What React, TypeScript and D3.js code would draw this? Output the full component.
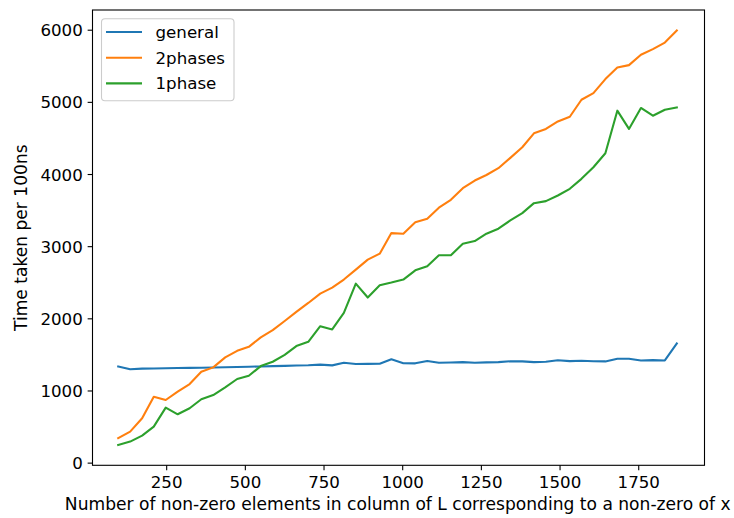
import React from "react";
import * as d3 from "d3";

const xValues = [96,134,172,209,247,285,323,360,398,436,474,511,549,587,625,662,700,738,776,813,851,889,927,964,1002,1040,1078,1115,1153,1191,1229,1266,1304,1342,1380,1417,1455,1493,1531,1568,1606,1644,1682,1719,1757,1795,1833,1871];

const general = [1340,1302,1310,1312,1315,1318,1320,1322,1325,1328,1332,1336,1340,1344,1348,1352,1356,1365,1355,1390,1375,1376,1378,1440,1385,1383,1416,1392,1395,1400,1392,1396,1400,1412,1410,1400,1404,1426,1414,1418,1412,1410,1446,1446,1423,1428,1423,1659];

const twoPhases = [346,437,622,921,875,990,1096,1266,1327,1466,1557,1612,1742,1843,1970,2096,2220,2350,2433,2544,2682,2820,2903,3188,3180,3340,3387,3540,3650,3810,3917,3993,4088,4231,4378,4571,4631,4736,4801,5036,5129,5323,5483,5516,5659,5738,5829,5995];

const onePhase = [253,299,382,506,769,677,760,885,944,1051,1166,1211,1345,1405,1500,1622,1681,1898,1853,2082,2488,2295,2465,2502,2544,2672,2728,2880,2880,3041,3078,3180,3249,3364,3465,3603,3631,3709,3802,3940,4101,4294,4885,4632,4922,4815,4898,4930];

const seriesNames = ["general", "2phases", "1phase"];
const seriesColors = ["#1f77b4", "#ff7f0e", "#2ca02c"];
const xTicks = [250, 500, 750, 1000, 1250, 1500, 1750];
const yTicks = [0, 1000, 2000, 3000, 4000, 5000, 6000];
const xLabel = "Number of non-zero elements in column of L corresponding to a non-zero of x";
const yLabel = "Time taken per 100ns";

export default function App() {
  const W = 734, H = 518;
  const L = 92.5, R = 704.5, T = 10, B = 465.3;
  const x = d3.scaleLinear().domain([14.3, 1959]).range([L, R]);
  const y = d3.scaleLinear().domain([-30, 6280]).range([B, T]);
  const all = [general, twoPhases, onePhase];
  const line = d3.line<[number, number]>().x(d => x(d[0])).y(d => y(d[1]));
  const font = "DejaVu Sans, sans-serif";
  const fs = 16.67;
  const lfs = 17.1;
  return (
    <svg width={W} height={H} style={{ position: "absolute", left: 0, top: 0, background: "#fff" }} fontFamily={font}>
      <rect x={0} y={0} width={W} height={H} fill="#fff" />
      {all.map((vals, i) => (
        <path key={i} d={line(vals.map((v, j) => [xValues[j], v] as [number, number])) || ""}
          fill="none" stroke={seriesColors[i]} strokeWidth={2.08} strokeLinejoin="round" strokeLinecap="square" />
      ))}
      <rect x={L} y={T} width={R - L} height={B - T} fill="none" stroke="#000" strokeWidth={1.1} />
      {xTicks.map(t => (
        <g key={t}>
          <line x1={x(t)} x2={x(t)} y1={B} y2={B + 4.86} stroke="#000" strokeWidth={1.1} />
          <text x={x(t)} y={B + 23} textAnchor="middle" fontSize={fs} fill="#000">{t}</text>
        </g>
      ))}
      {yTicks.map(t => (
        <g key={t}>
          <line x1={L - 4.86} x2={L} y1={y(t)} y2={y(t)} stroke="#000" strokeWidth={1.1} />
          <text x={L - 9.7} y={y(t) + 6} textAnchor="end" fontSize={fs} fill="#000">{t}</text>
        </g>
      ))}
      <text x={397.75} y={510} textAnchor="middle" fontSize={lfs} fill="#000">{xLabel}</text>
      <text transform={`translate(${27},${(T + B) / 2}) rotate(-90)`} textAnchor="middle" fontSize={lfs} fill="#000">{yLabel}</text>
      <g>
        <rect x={101.5} y={18.8} width={132.5} height={82} rx={3.5} fill="#fff" fillOpacity={0.8} stroke="#cccccc" strokeWidth={1.1} />
        {seriesNames.map((n, i) => {
          const cy = 32 + i * 25.7;
          return (
            <g key={n}>
              <line x1={106} x2={142} y1={cy} y2={cy} stroke={seriesColors[i]} strokeWidth={2.08} />
              <text x={155.5} y={cy + 6} fontSize={fs} fill="#000">{n}</text>
            </g>
          );
        })}
      </g>
    </svg>
  );
}
